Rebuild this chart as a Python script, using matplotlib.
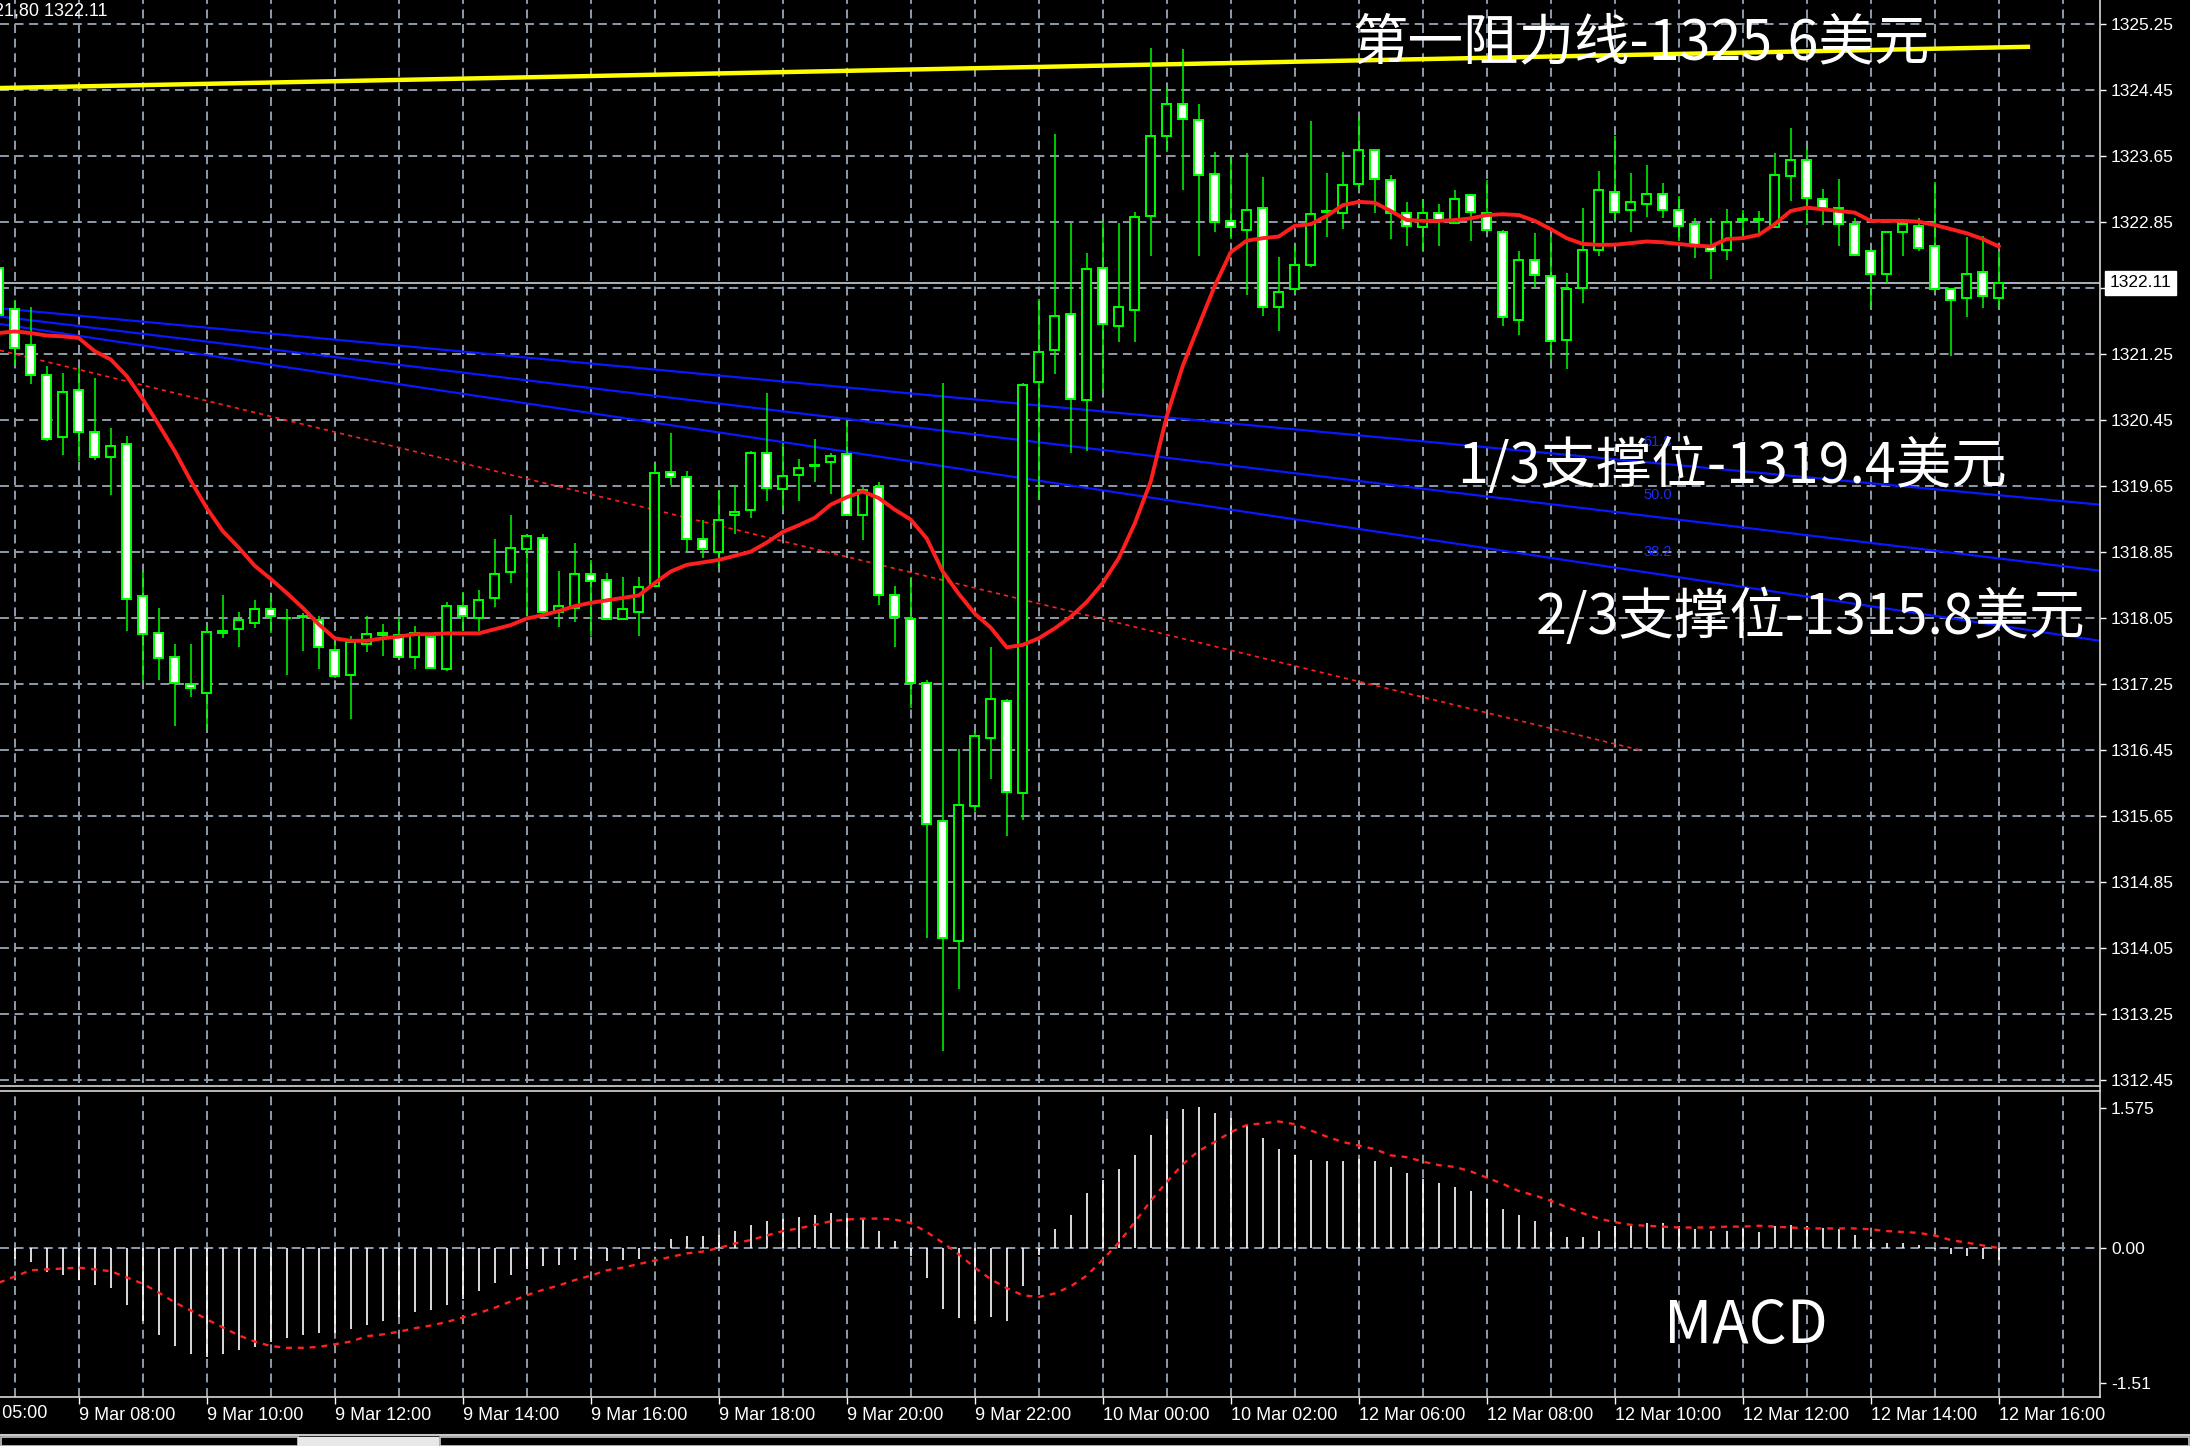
import numpy as np
import matplotlib
matplotlib.use('Agg')
import matplotlib.pyplot as plt
from matplotlib.lines import Line2D
from matplotlib.patches import Rectangle

# ---------------- data (XAUUSD M15) ----------------
OPEN = [1322.29, 1321.79, 1321.36, 1320.99, 1320.24, 1320.81, 1320.30, 1320.00, 1320.15, 1318.31,
        1317.86, 1317.57, 1317.25, 1317.14, 1317.87, 1317.91, 1317.99, 1318.16, 1318.05, 1318.06,
        1318.02, 1317.66, 1317.36, 1317.73, 1317.84, 1317.84, 1317.57, 1317.82, 1317.43, 1318.19,
        1318.05, 1318.29, 1318.60, 1318.88, 1319.02, 1318.12, 1318.17, 1318.58, 1318.51, 1318.03,
        1318.12, 1318.44, 1319.82, 1319.75, 1319.00, 1318.85, 1319.29, 1319.35, 1320.05, 1319.61,
        1319.78, 1319.89, 1319.94, 1320.04, 1319.29, 1319.63, 1318.32, 1318.03, 1317.26, 1315.58,
        1314.13, 1315.77, 1316.59, 1317.04, 1315.92, 1320.91, 1321.30, 1321.73, 1320.69, 1322.29,
        1321.59, 1321.78, 1322.92, 1323.89, 1324.28, 1324.08, 1323.43, 1322.86, 1322.75, 1323.01,
        1321.81, 1322.03, 1322.32, 1322.97, 1322.96, 1323.31, 1323.72, 1323.36, 1322.96, 1322.78,
        1322.96, 1322.83, 1323.17, 1322.96, 1322.73, 1321.66, 1322.39, 1322.19, 1321.42, 1322.05,
        1322.51, 1323.21, 1322.99, 1323.06, 1323.19, 1322.99, 1322.82, 1322.54, 1322.51, 1322.87,
        1322.87, 1322.78, 1323.40, 1323.60, 1323.12, 1323.02, 1322.82, 1322.49, 1322.22, 1322.73,
        1322.80, 1322.56, 1322.04, 1321.92, 1322.24, 1321.92]
HIGH = [1322.45, 1321.90, 1321.81, 1321.10, 1321.01, 1321.08, 1320.96, 1320.35, 1320.25, 1318.62,
        1318.17, 1317.73, 1317.73, 1317.95, 1318.32, 1318.12, 1318.27, 1318.32, 1318.15, 1318.11,
        1318.07, 1317.76, 1317.83, 1318.07, 1317.97, 1318.06, 1317.95, 1317.87, 1318.24, 1318.36,
        1318.39, 1319.00, 1319.29, 1319.06, 1319.06, 1318.62, 1318.96, 1318.75, 1318.59, 1318.54,
        1318.54, 1319.93, 1320.29, 1319.83, 1319.23, 1319.60, 1319.65, 1320.07, 1320.77, 1320.17,
        1319.97, 1320.21, 1320.05, 1320.43, 1319.63, 1319.69, 1318.44, 1318.54, 1317.30, 1320.90,
        1316.46, 1316.66, 1317.70, 1317.07, 1320.90, 1321.91, 1323.91, 1322.83, 1322.47, 1322.86,
        1322.83, 1322.97, 1324.96, 1324.48, 1324.94, 1324.28, 1323.70, 1323.63, 1323.68, 1323.39,
        1322.42, 1322.57, 1324.07, 1323.44, 1323.70, 1324.12, 1323.72, 1323.42, 1323.09, 1323.12,
        1323.07, 1323.24, 1323.17, 1323.36, 1322.75, 1322.49, 1322.71, 1322.68, 1322.23, 1323.02,
        1323.46, 1323.89, 1323.44, 1323.54, 1323.32, 1323.16, 1322.90, 1322.90, 1323.00, 1322.99,
        1322.98, 1323.68, 1323.99, 1323.75, 1323.25, 1323.37, 1322.90, 1322.49, 1322.73, 1322.82,
        1322.90, 1323.33, 1322.04, 1322.67, 1322.68, 1322.49]
LOW = [1321.60, 1321.10, 1320.88, 1320.19, 1320.02, 1319.95, 1319.96, 1319.54, 1317.89, 1317.28,
       1317.30, 1316.74, 1317.09, 1316.70, 1317.80, 1317.70, 1317.92, 1317.87, 1317.35, 1317.65,
       1317.43, 1317.32, 1316.82, 1317.63, 1317.58, 1317.56, 1317.43, 1317.43, 1317.40, 1317.89,
       1317.89, 1318.18, 1318.47, 1318.07, 1318.10, 1317.94, 1318.00, 1317.83, 1318.03, 1318.03,
       1317.83, 1318.42, 1319.66, 1318.85, 1318.77, 1318.66, 1319.07, 1319.26, 1319.47, 1319.36,
       1319.47, 1319.69, 1319.55, 1319.28, 1318.99, 1318.20, 1317.70, 1316.96, 1314.17, 1312.80,
       1313.55, 1315.71, 1316.10, 1315.40, 1315.60, 1319.48, 1321.00, 1320.05, 1320.07, 1320.80,
       1321.39, 1321.39, 1322.43, 1323.69, 1323.23, 1322.43, 1322.72, 1322.64, 1321.96, 1321.71,
       1321.53, 1321.99, 1322.30, 1322.67, 1322.76, 1323.25, 1322.96, 1322.64, 1322.55, 1322.50,
       1322.55, 1322.82, 1322.62, 1322.75, 1321.59, 1321.48, 1322.05, 1321.17, 1321.07, 1321.87,
       1322.43, 1322.88, 1322.72, 1322.91, 1322.89, 1322.61, 1322.41, 1322.16, 1322.38, 1322.64,
       1322.71, 1322.77, 1323.10, 1322.81, 1322.81, 1322.55, 1322.43, 1321.81, 1322.09, 1322.43,
       1322.50, 1322.01, 1321.22, 1321.70, 1321.80, 1321.80]
CLOSE = [1321.72, 1321.32, 1320.99, 1320.22, 1320.79, 1320.30, 1320.00, 1320.13, 1318.28, 1317.85,
         1317.56, 1317.26, 1317.20, 1317.88, 1317.89, 1318.02, 1318.16, 1318.07, 1318.05, 1318.07,
         1317.69, 1317.34, 1317.75, 1317.85, 1317.87, 1317.57, 1317.87, 1317.44, 1318.19, 1318.07,
         1318.26, 1318.58, 1318.90, 1319.04, 1318.12, 1318.19, 1318.58, 1318.50, 1318.03, 1318.15,
         1318.42, 1319.80, 1319.75, 1319.00, 1318.88, 1319.24, 1319.33, 1320.05, 1319.62, 1319.77,
         1319.87, 1319.90, 1320.01, 1319.29, 1319.60, 1318.32, 1318.06, 1317.26, 1315.55, 1314.17,
         1315.78, 1316.61, 1317.07, 1315.94, 1320.87, 1321.27, 1321.71, 1320.70, 1322.28, 1321.61,
         1321.81, 1322.91, 1323.89, 1324.28, 1324.09, 1323.41, 1322.85, 1322.78, 1322.99, 1321.81,
         1322.00, 1322.32, 1322.94, 1322.98, 1323.29, 1323.72, 1323.37, 1322.96, 1322.80, 1322.96,
         1322.86, 1323.13, 1322.97, 1322.75, 1321.69, 1322.39, 1322.20, 1321.40, 1322.03, 1322.51,
         1323.24, 1322.97, 1323.09, 1323.19, 1322.99, 1322.80, 1322.57, 1322.49, 1322.85, 1322.88,
         1322.88, 1323.41, 1323.60, 1323.14, 1323.02, 1322.82, 1322.45, 1322.22, 1322.73, 1322.82,
         1322.53, 1322.03, 1321.90, 1322.22, 1321.95, 1322.11]
MA = [1321.50, 1321.52, 1321.50, 1321.47, 1321.46, 1321.44, 1321.28, 1321.18, 1320.98, 1320.70,
      1320.39, 1320.07, 1319.71, 1319.38, 1319.10, 1318.90, 1318.68, 1318.52, 1318.35, 1318.17,
      1317.97, 1317.80, 1317.77, 1317.77, 1317.80, 1317.82, 1317.85, 1317.85, 1317.86, 1317.86,
      1317.86, 1317.91, 1317.96, 1318.04, 1318.08, 1318.13, 1318.19, 1318.23, 1318.26, 1318.29,
      1318.32, 1318.47, 1318.61, 1318.69, 1318.72, 1318.75, 1318.80, 1318.85, 1318.96, 1319.09,
      1319.17, 1319.26, 1319.42, 1319.51, 1319.58, 1319.50, 1319.36, 1319.24, 1319.01, 1318.61,
      1318.34, 1318.10, 1317.93, 1317.69, 1317.72, 1317.80, 1317.92, 1318.06, 1318.24, 1318.47,
      1318.77, 1319.19, 1319.70, 1320.49, 1321.10, 1321.59, 1322.07, 1322.48, 1322.62, 1322.65,
      1322.67, 1322.80, 1322.82, 1322.92, 1323.05, 1323.09, 1323.08, 1322.98, 1322.87, 1322.86,
      1322.86, 1322.87, 1322.89, 1322.93, 1322.94, 1322.93, 1322.86, 1322.76, 1322.65, 1322.58,
      1322.57, 1322.57, 1322.59, 1322.61, 1322.60, 1322.58, 1322.56, 1322.55, 1322.64, 1322.65,
      1322.69, 1322.82, 1322.98, 1323.02, 1323.00, 1322.98, 1322.96, 1322.86, 1322.86, 1322.86,
      1322.85, 1322.81, 1322.76, 1322.71, 1322.64, 1322.55]
MACD_HIST = [-0.10, -0.12, -0.16, -0.27, -0.30, -0.36, -0.41, -0.45, -0.64, -0.82,
             -0.98, -1.10, -1.19, -1.22, -1.19, -1.15, -1.11, -1.06, -1.01, -0.98,
             -0.95, -0.95, -0.91, -0.86, -0.82, -0.77, -0.72, -0.70, -0.64, -0.57,
             -0.48, -0.39, -0.30, -0.24, -0.20, -0.19, -0.14, -0.12, -0.15, -0.14,
             -0.12, 0.01, 0.10, 0.13, 0.13, 0.15, 0.19, 0.26, 0.30, 0.33,
             0.35, 0.37, 0.39, 0.34, 0.33, 0.19, 0.08, -0.09, -0.34, -0.68,
             -0.79, -0.82, -0.77, -0.82, -0.43, -0.08, 0.21, 0.37, 0.62, 0.76,
             0.89, 1.04, 1.27, 1.45, 1.56, 1.58, 1.52, 1.46, 1.38, 1.23,
             1.11, 1.04, 0.99, 0.98, 0.98, 1.00, 0.98, 0.91, 0.84, 0.78,
             0.73, 0.69, 0.64, 0.55, 0.44, 0.37, 0.30, 0.18, 0.12, 0.12,
             0.19, 0.25, 0.27, 0.28, 0.28, 0.25, 0.21, 0.19, 0.19, 0.21,
             0.18, 0.25, 0.26, 0.25, 0.23, 0.21, 0.15, 0.10, 0.06, 0.06,
             0.03, -0.01, -0.07, -0.09, -0.12, -0.14]
MACD_SIGNAL = [-0.39, -0.32, -0.25, -0.24, -0.23, -0.22, -0.24, -0.26, -0.33, -0.40,
               -0.50, -0.61, -0.70, -0.80, -0.89, -0.98, -1.05, -1.10, -1.12, -1.12,
               -1.11, -1.08, -1.05, -0.99, -0.97, -0.94, -0.90, -0.87, -0.83, -0.78,
               -0.73, -0.67, -0.60, -0.53, -0.47, -0.42, -0.36, -0.31, -0.25, -0.22,
               -0.18, -0.14, -0.10, -0.06, -0.04, 0.00, 0.05, 0.09, 0.14, 0.19,
               0.22, 0.26, 0.30, 0.32, 0.33, 0.33, 0.32, 0.28, 0.18, 0.06,
               -0.07, -0.22, -0.35, -0.45, -0.53, -0.55, -0.51, -0.43, -0.31, -0.13,
               0.06, 0.29, 0.53, 0.74, 0.94, 1.09, 1.19, 1.30, 1.38, 1.40,
               1.42, 1.39, 1.32, 1.25, 1.19, 1.15, 1.11, 1.04, 1.02, 0.97,
               0.93, 0.91, 0.86, 0.79, 0.72, 0.64, 0.59, 0.53, 0.46, 0.39,
               0.33, 0.29, 0.26, 0.25, 0.24, 0.23, 0.23, 0.23, 0.24, 0.24,
               0.25, 0.24, 0.23, 0.22, 0.22, 0.22, 0.22, 0.21, 0.19, 0.18,
               0.17, 0.14, 0.09, 0.06, 0.03, 0.00]

CURRENT_PRICE = 1322.11
PRICE_TICKS = [1312.45, 1313.25, 1314.05, 1314.85, 1315.65, 1316.45, 1317.25, 1318.05,
               1318.85, 1319.65, 1320.45, 1321.25, 1322.05, 1322.85, 1323.65, 1324.45, 1325.25]
MACD_TICKS = [1.575, 0.00, -1.51]
MACD_TICK_LABELS = ['1.575', '0.00', '-1.51']
TIME_LABELS = ['9 Mar 08:00', '9 Mar 10:00', '9 Mar 12:00', '9 Mar 14:00', '9 Mar 16:00',
               '9 Mar 18:00', '9 Mar 20:00', '9 Mar 22:00', '10 Mar 00:00', '10 Mar 02:00',
               '12 Mar 06:00', '12 Mar 08:00', '12 Mar 10:00', '12 Mar 12:00', '12 Mar 14:00',
               '12 Mar 16:00']
FIRST_TIME_LABEL = '9 Mar 05:00'
# drawn objects (values in bar index / price)
RESIST_X = [0.08, 126.96]
RESIST_Y = [1324.47, 1324.97]
FAN_X = [0.08, 131.33]
FAN_Y = [[1321.80, 1319.42], [1321.70, 1318.62], [1321.61, 1317.77]]
FAN_LEVELS = ['61.8', '50.0', '38.2']
FAN_LABEL_Y = [1320.18, 1319.54, 1318.85]
TREND_X = [0.08, 102.7]
TREND_Y = [1321.29, 1316.44]
ANNOTATIONS = ['第一阻力线-1325.6美元', '1/3支撑位-1319.4美元', '2/3支撑位-1315.8美元']

# ---------------- figure ----------------
W, H = 2190, 1446
DPI = 100
fig = plt.figure(figsize=(W / DPI, H / DPI), dpi=DPI, facecolor='black')
CJK = ['Noto Sans CJK SC', 'DejaVu Sans']
LAB = ['Liberation Sans', 'DejaVu Sans']
AX_FS = 12.5
TIME_FS = 13


def fx(px):
    return px / W


def fy(py):
    return 1 - py / H


MAIN_TOP, MAIN_BOT = 0, 1083
M_TOP, M_BOT = 1092, 1397
RIGHT = 2100
ax = fig.add_axes([0, fy(MAIN_BOT), fx(RIGHT), (MAIN_BOT - MAIN_TOP) / H])
axm = fig.add_axes([0, fy(M_BOT), fx(RIGHT), (M_BOT - M_TOP) / H])
for a in (ax, axm):
    a.set_facecolor('black')
    for s in a.spines.values():
        s.set_visible(False)

n = len(OPEN)
idx = np.arange(n)
o, h, l, c = map(np.array, (OPEN, HIGH, LOW, CLOSE))
XL = (0.081, 131.33)
ax.set_xlim(*XL)
axm.set_xlim(*XL)
ax.set_ylim(1312.41, 1325.537)
axm.set_ylim(-1.672, 1.751)

GRID_C = '#8E9BA8'
dash = (0, (4.6, 2.9))
grid_x = np.arange(1, n + 8, 4)
for gx in grid_x:
    ax.axvline(gx, color=GRID_C, lw=1.4, ls=dash, zorder=1)
    axm.axvline(gx, color=GRID_C, lw=1.4, ls=dash, zorder=1)
for p in PRICE_TICKS:
    ax.axhline(p, color=GRID_C, lw=1.4, ls=dash, zorder=1)
axm.axhline(0, color=GRID_C, lw=1.4, ls=dash, zorder=1)

# objects
ax.plot(RESIST_X, RESIST_Y, color='#FFFF00', lw=3.2, zorder=2, solid_capstyle='butt')
for fy_ in FAN_Y:
    ax.plot(FAN_X, fy_, color='#0818FF', lw=1.6, zorder=2)
ax.plot(TREND_X, TREND_Y, color='#FF2020', lw=1.2, ls=(0, (2.5, 2.5)), zorder=2)
for lvl, ly in zip(FAN_LEVELS, FAN_LABEL_Y):
    ax.text(102.8, ly, lvl, color='#1A2AFF', fontsize=10.5, ha='left', va='center', family=LAB, zorder=2)
ax.axhline(CURRENT_PRICE, color='#A8B3BE', lw=1.4, zorder=2)

# candles
bear = c < o
ax.vlines(idx, l, h, color='#00FF00', lw=1.1, zorder=3)
ax.bar(idx, np.abs(c - o), width=0.56, bottom=np.minimum(o, c),
       color=np.where(bear, 'white', 'black'), edgecolor='#00FF00', linewidth=1.4, zorder=4)
ax.plot(idx, MA, color='#FF1E1E', lw=2.8, zorder=5)

# MACD
axm.vlines(idx, 0, MACD_HIST, color='white', lw=1.2, zorder=3)
axm.plot(idx, MACD_SIGNAL, color='#FF2020', lw=1.7, ls=(0, (2.5, 2.5)), zorder=4)

# ticks
ax.set_yticks(PRICE_TICKS)
ax.set_yticklabels(['' if abs(p - CURRENT_PRICE) < 0.2 else '%.2f' % p for p in PRICE_TICKS])
ax.tick_params(axis='y', left=False, labelleft=False, right=True, labelright=True,
               colors='white', length=4, width=1, labelsize=AX_FS, pad=4)
ax.set_xticks([])
for t in ax.get_yticklabels():
    t.set_family(LAB)
axm.set_yticks(MACD_TICKS)
axm.set_yticklabels(MACD_TICK_LABELS)
axm.tick_params(axis='y', left=False, labelleft=False, right=True, labelright=True,
                colors='white', length=4, width=1, labelsize=AX_FS, pad=4)
tick_bars = 5 + 8 * np.arange(len(TIME_LABELS))
axm.set_xticks(tick_bars)
axm.set_xticklabels(TIME_LABELS)
axm.tick_params(axis='x', colors='white', length=5, width=1, labelsize=TIME_FS, pad=2)
for t in axm.get_xticklabels() + axm.get_yticklabels():
    t.set_family(LAB)
for t in axm.get_xticklabels():
    t.set_horizontalalignment('left')
axm.annotate(FIRST_TIME_LABEL, xy=(tick_bars[0] - 8, 0), xycoords=('data', 'axes fraction'),
             xytext=(0, -(5 * 72 / DPI + 2)), textcoords='offset points', ha='left', va='top',
             color='white', fontsize=TIME_FS, family=LAB, annotation_clip=False)

# current price box
ax.annotate('%.2f' % CURRENT_PRICE, xy=(1, CURRENT_PRICE), xycoords=('axes fraction', 'data'),
            xytext=(7, 0), textcoords='offset points', ha='left', va='center', color='black',
            fontsize=AX_FS, family=LAB, annotation_clip=False, zorder=10,
            bbox=dict(boxstyle='square,pad=0.25', fc='white', ec='white'))

# frame lines
LC = '#D8D8D8'
fig.add_artist(Line2D([0, fx(RIGHT)], [fy(1086), fy(1086)], color=LC, lw=1.2))
fig.add_artist(Line2D([0, fx(RIGHT)], [fy(1091), fy(1091)], color=LC, lw=1.2))
fig.add_artist(Line2D([0, fx(RIGHT)], [fy(M_BOT), fy(M_BOT)], color=LC, lw=1.2))
fig.add_artist(Line2D([fx(RIGHT), fx(RIGHT)], [fy(0), fy(M_BOT)], color=LC, lw=1.2))
# bottom tab strip
fig.add_artist(Line2D([0, 1], [fy(1435), fy(1435)], color='#C8C8C8', lw=1.5))
fig.add_artist(Rectangle((fx(1), fy(1446)), fx(297), (1446 - 1437) / H, fill=False, ec='#C8C8C8', lw=1.2))
fig.add_artist(Rectangle((fx(298), fy(1446)), fx(140), (1446 - 1437) / H, fc='#E8E8E8', ec='#E8E8E8', lw=1.0))
fig.add_artist(Rectangle((fx(440), fy(1446)), fx(1749), (1446 - 1437) / H, fill=False, ec='#C8C8C8', lw=1.2))

# texts
fig.text(fx(-6), fy(11), '21,80 1322.11', color='white', fontsize=TIME_FS, family=LAB, ha='left', va='center')
TEXT_POS = [(1352, 44), (1457, 467), (1536, 618)]
for s, (px, py) in zip(ANNOTATIONS, TEXT_POS):
    fig.text(fx(px), fy(py), s, color='white', fontsize=40, family=CJK, ha='left', va='center', zorder=20)
fig.text(fx(1664), fy(1326), 'MACD', color='white', fontsize=43, family=CJK, ha='left', va='center', zorder=20)

fig.savefig('out.png', dpi=DPI, facecolor='black')
